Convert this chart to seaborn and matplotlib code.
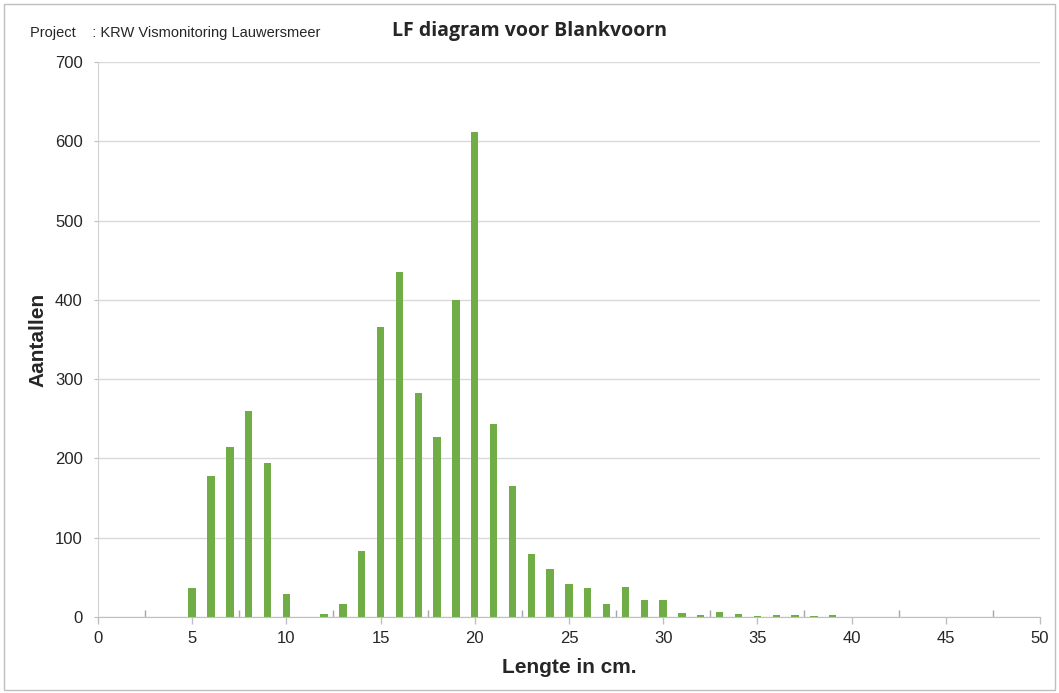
import numpy as np
import pandas as pd
import seaborn as sns
import matplotlib.pyplot as plt
from matplotlib.patches import Rectangle
from matplotlib.ticker import MultipleLocator

# length classes (cm) and counts
lengte = list(range(0, 51))
aantallen = [0, 0, 0, 0, 0, 37, 178, 215, 260, 194,
             29, 0, 4, 16, 83, 366, 435, 283, 227, 400,
             612, 243, 165, 80, 61, 42, 36, 17, 38, 21,
             21, 5, 2, 6, 4, 1, 3, 2, 1, 3,
             0, 0, 0, 0, 0, 0, 0, 0, 0, 0, 0]

df = pd.DataFrame({'lengte': lengte, 'aantal': aantallen})

sns.set_style('white')
plt.rcParams['font.family'] = ['Liberation Sans', 'DejaVu Sans']

fig = plt.figure(figsize=(10.59, 6.93), dpi=100)
ax = fig.add_axes([0.0925, 0.1097, 0.8895, 0.8008])

sns.barplot(data=df, x='lengte', y='aantal', native_scale=True, width=0.39,
            color='#70AD47', saturation=1, linewidth=0, ax=ax)

ax.set_xlim(0, 50)
ax.set_ylim(0, 700)
ax.xaxis.set_major_locator(MultipleLocator(5))
ax.yaxis.set_major_locator(MultipleLocator(100))
ax.set_xticks(np.arange(2.5, 50, 5), minor=True)
ax.tick_params(axis='x', which='major', direction='out', length=5, width=1, color='#BFBFBF',
               labelsize=12, pad=5, bottom=True)
ax.tick_params(axis='x', which='minor', direction='in', length=5, width=1, color='#A6A6A6',
               bottom=True)
ax.tick_params(axis='y', direction='out', length=3, color='#BFBFBF', labelsize=12, pad=8, left=True)
ax.grid(axis='y', color='#D9D9D9', linewidth=1)
ax.set_axisbelow(True)
for s in ['top', 'right']:
    ax.spines[s].set_visible(False)
ax.spines['bottom'].set_color('#BFBFBF')
ax.spines['left'].set_color('#D0D0D0')

ax.set_xlabel('Lengte in cm.', fontsize=15, fontweight='bold', labelpad=9)
ax.set_ylabel('Aantallen', fontsize=15, fontweight='bold', labelpad=5)

fig.text(0.028, 0.953, 'Project    : KRW Vismonitoring Lauwersmeer', fontsize=10.5,
         va='center', stretch='condensed')
fig.text(0.5, 0.955, 'LF diagram voor Blankvoorn', fontsize=14, fontweight='bold',
         ha='center', va='center', family=['Open Sans', 'DejaVu Sans'])

fig.patches.append(Rectangle((0.004, 0.004), 0.992, 0.99, transform=fig.transFigure,
                             fill=False, edgecolor='#BFBFBF', linewidth=1))

fig.savefig('out.png', dpi=100)
